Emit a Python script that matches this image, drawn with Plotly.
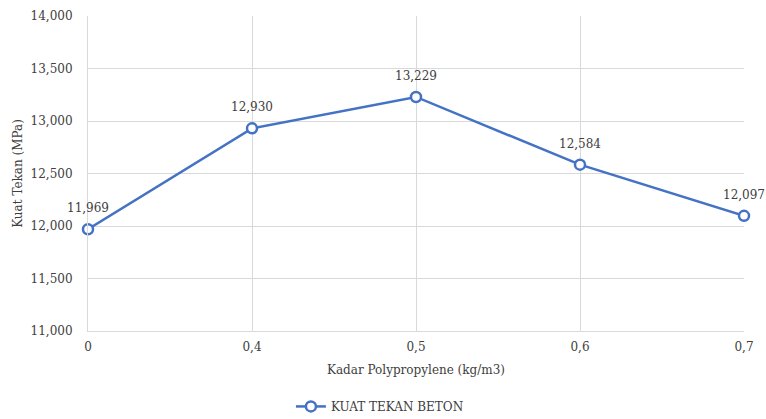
import plotly.graph_objects as go

# Fibre content categories and compressive strength results
kadar = ["0", "0,4", "0,5", "0,6", "0,7"]
kuat_tekan = [11.969, 12.930, 13.229, 12.584, 12.097]
y_ticks = [11.0, 11.5, 12.0, 12.5, 13.0, 13.5, 14.0]

FONT = "DejaVu Serif"
BLUE = "#4472C4"
TXT = "#404040"
SIZE = 12

fig = go.Figure()
fig.add_trace(go.Scatter(
    x=kadar,
    y=kuat_tekan,
    mode="lines+markers",
    name="KUAT TEKAN BETON",
    line=dict(color=BLUE, width=2.5),
    marker=dict(symbol="circle", size=10, color="white",
                line=dict(color=BLUE, width=2.5)),
    cliponaxis=False,
))

# value labels above each point
for k, v in zip(kadar, kuat_tekan):
    fig.add_annotation(
        x=k, y=v, text=f"{v:.3f}".replace(".", ","),
        showarrow=False, yshift=21, yanchor="middle",
        font=dict(family=FONT, size=SIZE, color=TXT),
    )

fig.update_layout(
    width=766, height=419,
    margin=dict(l=88, r=22, t=16, b=88, autoexpand=False),
    paper_bgcolor="white",
    plot_bgcolor="white",
    separators=",.",
    font=dict(family=FONT, size=SIZE, color=TXT),
    showlegend=True,
    legend=dict(orientation="h", x=0.445, xanchor="center",
                yref="container", y=0.03, yanchor="middle",
                font=dict(family=FONT, size=SIZE, color=TXT)),
    xaxis=dict(
        type="category",
        range=[0, 4],
        automargin=False,
        showgrid=True, gridcolor="#D9D9D9", gridwidth=1,
        showline=True, linecolor="#D9D9D9",
        ticks="", ticklabelstandoff=5,
        tickfont=dict(family=FONT, size=SIZE, color=TXT),
        title=dict(text="Kadar Polypropylene (kg/m3)", standoff=12,
                   font=dict(family=FONT, size=SIZE, color=TXT)),
        zeroline=False,
    ),
    yaxis=dict(
        range=[11.0, 14.0],
        tickvals=y_ticks,
        tickformat=".3f",
        automargin=False,
        showgrid=True, gridcolor="#D9D9D9", gridwidth=1,
        showline=True, linecolor="#D9D9D9",
        ticks="", ticklen=0, ticklabelstandoff=12,
        tickfont=dict(family=FONT, size=SIZE, color=TXT),
        title=dict(text="Kuat Tekan (MPa)", standoff=5,
                   font=dict(family=FONT, size=SIZE, color=TXT)),
        zeroline=False,
    ),
)

fig.write_html("out.html")
